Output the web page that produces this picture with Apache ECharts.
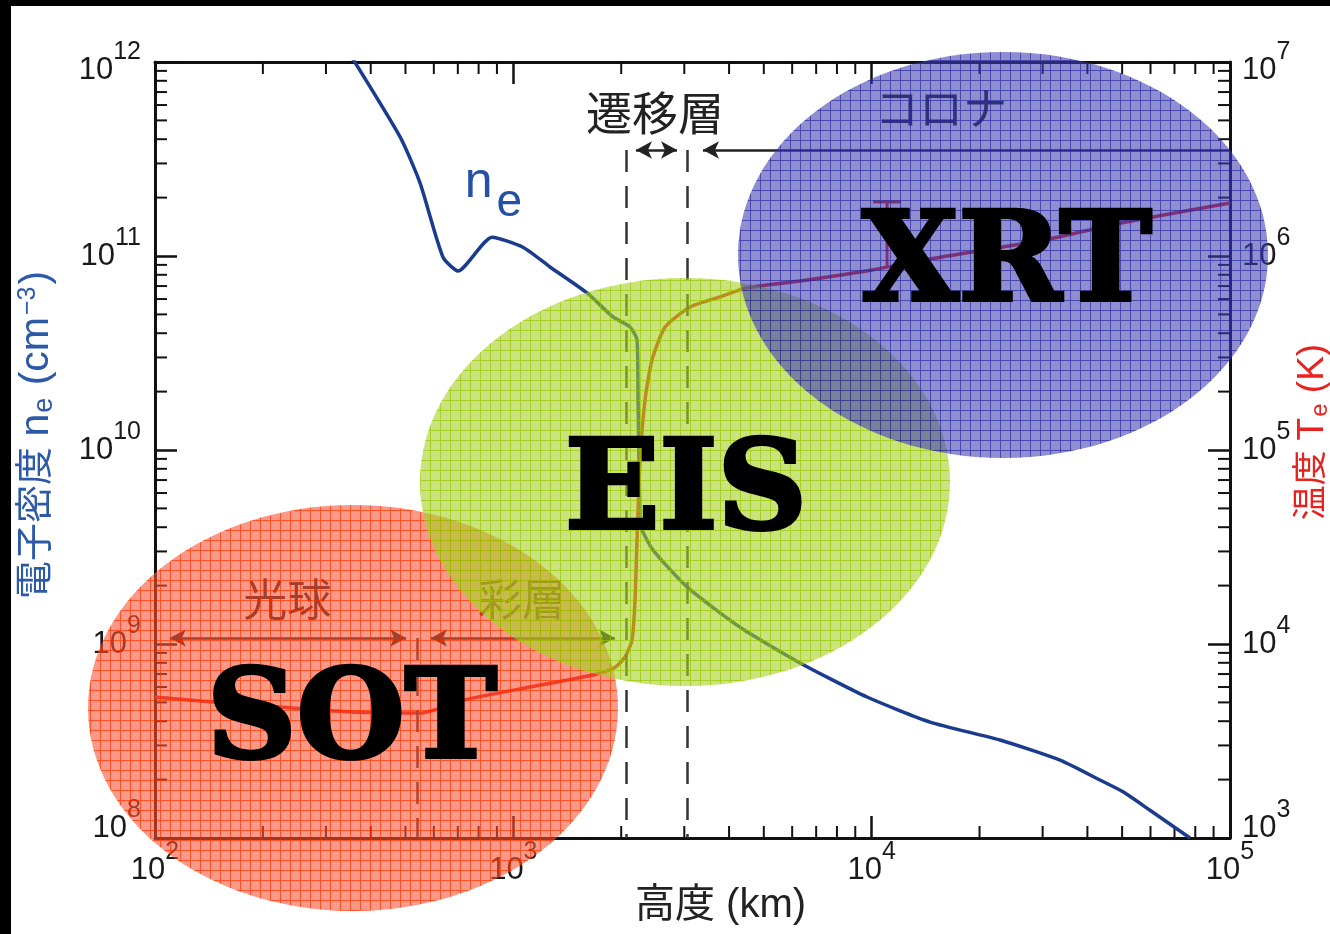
<!DOCTYPE html>
<html>
<head>
<meta charset="utf-8">
<script src="https://cdn.jsdelivr.net/npm/echarts@6/dist/echarts.min.js"></script>
<style>
  html, body { margin: 0; padding: 0; background: #fff; overflow: hidden; width: 1330px; height: 934px; }
  #chart { position: absolute; left: 0; top: 0; width: 1330px; height: 934px; }
  .band { position: absolute; background: #000; z-index: 5; }
</style>
</head>
<body>
<div id="chart"></div>
<div class="band" style="left:0;top:0;width:1330px;height:6px"></div>
<div class="band" style="left:0;top:0;width:11px;height:934px"></div>
<script>
// 高度 (km) と電子密度 n_e (cm^-3)
const neHeightKm = [333, 483, 549, 636, 701, 872, 1064, 1266, 1606, 1897, 2117, 2214, 2229, 2257, 2286, 2454,
  3052, 4292, 6310, 9705, 14550, 22800, 33550, 43370, 50280, 59800, 77330];
const neDensity = [1.27e12, 4.11e11, 2.38e11, 9.88e10, 8.37e10, 1.25e11, 1.11e11, 8.78e10, 6.45e10, 4.85e10,
  4.31e10, 3.69e10, 1.81e10, 4.35e9, 3.87e9, 3.05e9, 1.97e9, 1.22e9, 7.98e8, 5.33e8, 3.96e8, 3.20e8,
  2.52e8, 1.99e8, 1.73e8, 1.39e8, 1.0e8];

// 高度 (km) と温度 T_e (K)
const teHeightKm = [100, 156.8, 242.7, 350, 552.6, 728.6, 1113, 1669, 1909, 2050, 2144, 2186, 2214, 2258, 2331,
  2438, 2651, 3112, 3774, 4460, 6310, 10020, 14550, 30270, 49630, 100000];
const teKelvin = [5333, 4966, 4678, 4462, 4409, 5144, 6003, 6922, 7519, 8570, 10490, 16860, 34360, 88800,
  181000, 291000, 430000, 546000, 615000, 684000, 743000, 847000, 965000, 1.209e6, 1.479e6, 1.875e6];

// コロナ温度のエラーバー
const errHeightKm = [11040];
const errLowK = [8.8e5];
const errHighK = [1.9e6];

// 層の境界 (破線) と範囲 (矢印)
const boundaryKm = [540, 2060, 3050];
const boundaryTopNe = [1.074e9, 3.52e11, 3.52e11];
const layerNames = ['光球', '彩層', '遷移層', 'コロナ'];
const layerStartKm = [110, 589, 2199, 3383];
const layerEndKm = [502, 1921, 2863, 100000];
const layerArrowNe = [1.074e9, 1.074e9, 3.52e11, 3.52e11];
const layerLabelKm = [234, 1057, 2486, 15610];
const layerLabelNe = [1.607e9, 1.607e9, 5.2e11, 5.46e11];

// 補助目盛り (各桁の 2〜9 倍)
const minorMult = [2, 3, 4, 5, 6, 7, 8, 9];
const xDecades = [100, 1000, 10000];
const neDecades = [1e8, 1e9, 1e10, 1e11];
const teDecades = [1e3, 1e4, 1e5, 1e6];

const FONT = '"Liberation Sans", "Noto Sans CJK JP", sans-serif';
const BLUE = '#1b3c8c';
const RED = '#e3201b';

function minorValues(decades) {
  const out = [];
  decades.forEach(function (d) { minorMult.forEach(function (m) { out.push(m * d); }); });
  return out;
}

function gridPattern(fill, line) {
  const c = document.createElement('canvas');
  c.width = 10; c.height = 10;
  const g = c.getContext('2d');
  g.fillStyle = fill; g.fillRect(0, 0, 10, 10);
  g.clearRect(0, 0, 10, 1); g.clearRect(0, 0, 1, 10);
  g.fillStyle = line; g.fillRect(0, 0, 10, 1); g.fillRect(0, 1, 1, 9);
  return { image: c, repeat: 'repeat' };
}

// 10^n ラベル: 両トークンの高さをそろえて padding だけで上付きにする
function powRich() {
  const base = { fontFamily: FONT, color: '#1a1a1a' };
  function b(p) { return Object.assign({ fontSize: 31, lineHeight: 31, padding: p }, base); }
  function s(p) { return Object.assign({ fontSize: 25, lineHeight: 25, padding: p }, base); }
  return {
    b: b([15, 0, 15, 0]),  s: s([0, 0, 36, 0]),
    bT: b([31, 0, 15, 0]), sT: s([16, 0, 36, 0]),
    bB: b([15, 0, 35, 0]), sB: s([0, 0, 56, 0])
  };
}
function yPowLabel(min, max) {
  return function (v) {
    const e = Math.round(Math.log10(v));
    let tag = '';
    if (e === Math.round(Math.log10(max))) tag = 'T';
    if (e === Math.round(Math.log10(min))) tag = 'B';
    return '{b' + tag + '|10}{s' + tag + '|' + e + '}';
  };
}
function xPowLabel(v) {
  return '{b|10}{s|' + Math.round(Math.log10(v)) + '}';
}

const axisBase = {
  type: 'log',
  logBase: 10,
  nameMoveOverlap: false,
  axisLine: { show: true, onZero: false, lineStyle: { color: '#111', width: 3 } },
  axisTick: { show: true, inside: true, length: 22, lineStyle: { color: '#111', width: 2.5 } },
  minorTick: { show: false },
  splitLine: { show: false },
  minorSplitLine: { show: false }
};

function tickLine(x1, y1, x2, y2) {
  return { type: 'line', shape: { x1: x1, y1: y1, x2: x2, y2: y2 }, style: { stroke: '#111', lineWidth: 2 } };
}
const MINOR = 12;

const markLineData = [];
boundaryKm.forEach(function (km, i) {
  markLineData.push([
    { coord: [km, boundaryTopNe[i]], symbol: 'none', lineStyle: { type: [22, 14], color: '#333', width: 2.5 } },
    { coord: [km, 1e8], symbol: 'none' }
  ]);
});
layerStartKm.forEach(function (km, i) {
  markLineData.push([
    { coord: [km, layerArrowNe[i]], symbol: 'arrow', symbolSize: [13, 16],
      lineStyle: { type: 'solid', color: '#222', width: 2.5 } },
    { coord: [layerEndKm[i], layerArrowNe[i]], symbol: layerEndKm[i] >= 100000 ? 'none' : 'arrow', symbolSize: [13, 16] }
  ]);
});

const markPointData = layerNames.map(function (n, i) {
  return { name: n, coord: [layerLabelKm[i], layerLabelNe[i]], label: { fontSize: i === 2 ? 46 : 44 } };
});
markPointData.push({
  name: 'ne', coord: [880, 2.14e11],
  label: {
    formatter: '{n|n}{e|e}',
    rich: {
      n: { fontFamily: FONT, fontSize: 50, lineHeight: 50, padding: [0, 0, 18, 0], color: '#2451a6' },
      e: { fontFamily: FONT, fontSize: 46, lineHeight: 46, padding: [22, 0, 0, 4], color: '#2451a6' }
    }
  }
});

const chart = echarts.init(document.getElementById('chart'));
chart.setOption({
  animation: false,
  backgroundColor: '#fff',
  textStyle: { fontFamily: FONT },
  grid: { left: 155, right: 100, top: 62, bottom: 96, containLabel: false, outerBoundsMode: 'none' },
  xAxis: [
    Object.assign({}, axisBase, {
      position: 'bottom', min: 100, max: 100000,
      name: '高度 (km)', nameLocation: 'middle', nameGap: 48,
      nameTextStyle: { fontFamily: FONT, fontSize: 40, color: '#222', padding: [0, 0, 0, 56] },
      axisLabel: { margin: 17, formatter: xPowLabel, rich: powRich() }
    }),
    Object.assign({}, axisBase, {
      position: 'top', min: 100, max: 100000,
      axisLabel: { show: false }
    })
  ],
  yAxis: [
    Object.assign({}, axisBase, {
      position: 'left', min: 1e8, max: 1e12,
      name: '{c|電子密度 }{l|n}{sub|e}{l| (cm}{sup|−3}{l|)}',
      nameLocation: 'middle', nameRotate: 90, nameGap: 98,
      nameTextStyle: {
        padding: [0, 0, 0, 30],
        rich: {
          c: { fontFamily: FONT, fontSize: 38, lineHeight: 38, padding: [2, 0, 2, 0], color: '#2d5aa8' },
          l: { fontFamily: FONT, fontSize: 41, lineHeight: 40, padding: [1, 0, 1, 0], color: '#2d5aa8' },
          sub: { fontFamily: FONT, fontSize: 27, lineHeight: 27, padding: [15, 1, 0, 1], color: '#2d5aa8' },
          sup: { fontFamily: FONT, fontSize: 25, lineHeight: 25, padding: [0, 2, 17, 2], color: '#2d5aa8' }
        }
      },
      axisLabel: { margin: 14, formatter: yPowLabel(1e8, 1e12), rich: powRich() }
    }),
    Object.assign({}, axisBase, {
      position: 'right', min: 1e3, max: 1e7,
      name: '{c|温度 }{l|T}{sub|e}{l| (K)}',
      nameLocation: 'middle', nameRotate: 90, nameGap: 64,
      nameTextStyle: {
        padding: [0, 0, 0, 36],
        rich: {
          c: { fontFamily: FONT, fontSize: 35, lineHeight: 35, padding: [2, 0, 2, 0], color: '#e8221f' },
          l: { fontFamily: FONT, fontSize: 37, lineHeight: 37, padding: [1, 0, 1, 0], color: '#e8221f' },
          sub: { fontFamily: FONT, fontSize: 24, lineHeight: 24, padding: [15, 0, 0, 1], color: '#e8221f' }
        }
      },
      axisLabel: { margin: 12, formatter: yPowLabel(1e3, 1e7), rich: powRich() }
    })
  ],
  series: [
    {
      name: 'ne', type: 'line', xAxisIndex: 0, yAxisIndex: 0,
      data: neHeightKm.map(function (h, i) { return [h, neDensity[i]]; }),
      showSymbol: false, smooth: 0.2, clip: true, z: 3,
      lineStyle: { color: BLUE, width: 3.5 },
      markLine: { silent: true, animation: false, label: { show: false }, data: markLineData },
      markPoint: {
        silent: true, animation: false, symbol: 'rect', symbolSize: 1,
        itemStyle: { color: 'rgba(0,0,0,0)' },
        label: { show: true, position: 'inside', formatter: '{b}', fontFamily: FONT, fontSize: 44, color: '#222' },
        data: markPointData
      }
    },
    {
      name: 'Te', type: 'line', xAxisIndex: 0, yAxisIndex: 1,
      data: teHeightKm.map(function (h, i) { return [h, teKelvin[i]]; }),
      showSymbol: false, smooth: 0.2, clip: true, z: 3,
      lineStyle: { color: RED, width: 3.5 }
    },
    {
      name: 'err', type: 'custom', xAxisIndex: 0, yAxisIndex: 1, silent: true, z: 3,
      data: errHeightKm.map(function (h, i) { return [h, errLowK[i], errHighK[i]]; }),
      renderItem: function (params, api) {
        const lo = api.coord([api.value(0), api.value(1)]);
        const hi = api.coord([api.value(0), api.value(2)]);
        return {
          type: 'group',
          children: [
            { type: 'line', shape: { x1: lo[0], y1: lo[1], x2: hi[0], y2: hi[1] }, style: { stroke: RED, lineWidth: 3 } },
            { type: 'line', shape: { x1: hi[0] - 14, y1: hi[1], x2: hi[0] + 14, y2: hi[1] }, style: { stroke: RED, lineWidth: 3 } }
          ]
        };
      }
    },
    {
      name: 'minorX', type: 'custom', xAxisIndex: 0, yAxisIndex: 0, silent: true, clip: false, z: 1,
      data: minorValues(xDecades).map(function (v) { return [v, 1e8]; }),
      renderItem: function (params, api) {
        const cs = params.coordSys;
        const x = api.coord([api.value(0), api.value(1)])[0];
        return { type: 'group', children: [
          tickLine(x, cs.y + cs.height, x, cs.y + cs.height - MINOR),
          tickLine(x, cs.y, x, cs.y + MINOR)
        ] };
      }
    },
    {
      name: 'minorNe', type: 'custom', xAxisIndex: 0, yAxisIndex: 0, silent: true, clip: false, z: 1,
      data: minorValues(neDecades).map(function (v) { return [100, v]; }),
      renderItem: function (params, api) {
        const cs = params.coordSys;
        const y = api.coord([api.value(0), api.value(1)])[1];
        return tickLine(cs.x, y, cs.x + MINOR, y);
      }
    },
    {
      name: 'minorTe', type: 'custom', xAxisIndex: 0, yAxisIndex: 1, silent: true, clip: false, z: 1,
      data: minorValues(teDecades).map(function (v) { return [100, v]; }),
      renderItem: function (params, api) {
        const cs = params.coordSys;
        const y = api.coord([api.value(0), api.value(1)])[1];
        return tickLine(cs.x + cs.width, y, cs.x + cs.width - MINOR, y);
      }
    }
  ],
  graphic: {
    elements: [
      { type: 'ellipse', silent: true, z: 10, shape: { cx: 353, cy: 708, rx: 265, ry: 203 },
        style: { fill: gridPattern('rgba(245,85,60,0.6)', 'rgba(255,50,0,0.85)') } },
      { type: 'ellipse', silent: true, z: 11, shape: { cx: 685, cy: 482, rx: 265, ry: 204 },
        style: { fill: gridPattern('rgba(168,208,40,0.6)', 'rgba(150,200,0,0.85)') } },
      { type: 'ellipse', silent: true, z: 12, shape: { cx: 1003, cy: 255, rx: 265, ry: 203 },
        style: { fill: gridPattern('rgba(60,60,175,0.58)', 'rgba(40,40,160,0.85)') } },
      { type: 'text', silent: true, z: 20, x: 1007, y: 268,
        style: { text: 'XRT', font: 'bold 124px "DejaVu Serif"', fill: '#000', stroke: '#000', lineWidth: 4,
          align: 'center', verticalAlign: 'middle', textAlign: 'center', textVerticalAlign: 'middle' } },
      { type: 'text', silent: true, z: 20, x: 686, y: 496,
        style: { text: 'EIS', font: 'bold 124px "DejaVu Serif"', fill: '#000', stroke: '#000', lineWidth: 4,
          align: 'center', verticalAlign: 'middle', textAlign: 'center', textVerticalAlign: 'middle' } },
      { type: 'text', silent: true, z: 20, x: 352, y: 725,
        style: { text: 'SOT', font: 'bold 124px "DejaVu Serif"', fill: '#000', stroke: '#000', lineWidth: 4,
          align: 'center', verticalAlign: 'middle', textAlign: 'center', textVerticalAlign: 'middle' } }
    ]
  }
});
</script>
</body>
</html>
